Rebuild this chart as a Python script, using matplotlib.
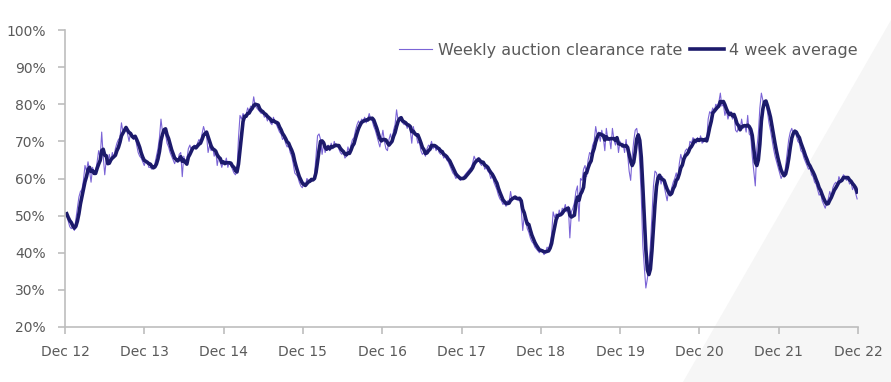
import numpy as np
import pandas as pd
import matplotlib
matplotlib.use("Agg")
import matplotlib.pyplot as plt
from matplotlib.patches import Polygon

# weekly auction clearance rate (%), Dec 12 -> Dec 22
y2013 = [50.5, 48.5, 47.0, 46.5, 47.0, 46.0, 49.0, 52.0, 55.0, 56.5, 57.0, 59.5, 63.5, 62.0, 64.5, 62.0,
         59.0, 63.0, 61.5, 62.0, 64.5, 67.5, 65.5, 72.5, 66.0, 61.0, 65.0, 64.0, 66.5, 64.5, 67.0, 65.5,
         68.0, 69.5, 70.5, 71.0, 75.0, 72.5, 73.5, 74.0, 72.0, 70.0, 72.5, 71.0, 70.5, 71.5, 69.0, 67.0,
         66.0, 65.5, 64.5, 63.5]
y2014 = [65.0, 64.5, 63.0, 63.0, 62.5, 63.0, 64.0, 66.0, 68.0, 71.0, 76.0, 72.5, 73.0, 72.0, 69.5, 68.5,
         67.0, 66.0, 65.0, 64.0, 65.5, 64.5, 66.5, 67.0, 60.5, 66.0, 64.0, 65.0, 68.0, 69.0, 67.5, 68.5,
         69.0, 68.0, 69.5, 70.5, 70.0, 72.0, 74.0, 72.5, 71.5, 67.0, 69.0, 67.5, 68.5, 66.0, 67.5, 63.5,
         66.0, 64.5, 63.0, 64.5]
y2015 = [64.0, 65.5, 63.0, 64.5, 63.5, 62.5, 61.5, 61.0, 62.0, 71.0, 77.0, 76.0, 77.5, 76.5, 77.0, 79.0,
         78.0, 79.5, 79.0, 82.0, 79.5, 79.0, 78.5, 78.0, 77.5, 78.0, 76.5, 77.0, 75.5, 76.5, 75.0, 74.5,
         76.5, 75.0, 74.5, 73.5, 72.5, 72.0, 70.5, 71.0, 69.5, 68.5, 69.0, 67.0, 66.0, 64.0, 61.5, 61.0,
         60.5, 59.0, 58.0, 57.5]
y2016 = [59.0, 58.0, 60.0, 59.5, 59.5, 60.0, 59.5, 61.0, 66.0, 71.5, 72.0, 70.5, 66.5, 69.5, 67.0, 68.5,
         69.0, 67.5, 69.5, 68.0, 70.0, 68.5, 69.0, 68.0, 67.0, 66.5, 67.5, 65.5, 66.0, 68.5, 67.0, 69.0,
         70.5, 71.0, 73.0, 74.5, 75.5, 74.5, 76.0, 75.5, 76.5, 75.0, 76.0, 77.5, 76.0, 75.5, 74.0, 73.0,
         71.5, 70.0, 68.5, 70.5]
y2017 = [73.0, 70.0, 68.0, 67.5, 70.5, 72.0, 70.0, 73.0, 74.5, 78.5, 75.5, 76.0, 75.5, 75.0, 74.5, 75.0,
         73.5, 74.5, 73.0, 69.5, 74.0, 72.0, 71.5, 69.5, 70.0, 67.5, 66.5, 67.0, 66.0, 68.0, 69.0, 68.5,
         70.0, 68.0, 69.0, 67.5, 68.5, 67.0, 66.5, 67.0, 65.5, 66.0, 65.0, 64.5, 63.5, 62.5, 61.5, 61.0,
         60.0, 60.5, 60.0, 59.5]
y2018 = [60.0, 60.5, 61.0, 61.5, 62.0, 62.5, 63.0, 64.0, 66.0, 65.0, 64.5, 65.5, 64.0, 63.5, 64.5, 62.5,
         63.0, 62.0, 61.5, 60.0, 61.0, 59.0, 58.0, 57.0, 55.5, 54.5, 54.0, 53.0, 53.5, 52.5, 54.0, 53.5,
         56.5, 54.0, 55.0, 54.5, 55.0, 54.0, 55.0, 52.0, 46.0, 50.0, 48.5, 46.5, 45.5, 44.0, 43.0, 42.5,
         41.5, 41.0, 40.5, 40.0]
y2019 = [41.0, 40.5, 39.5, 40.0, 41.5, 41.0, 42.5, 45.0, 51.0, 49.5, 50.5, 49.0, 51.5, 50.0, 52.0, 51.5,
         53.0, 51.0, 52.5, 44.0, 51.0, 52.0, 53.5, 56.5, 58.0, 48.5, 60.0, 59.5, 62.5, 63.5, 60.5, 65.0,
         67.0, 66.5, 69.0, 70.0, 74.0, 71.5, 72.5, 70.0, 73.0, 71.0, 67.5, 73.5, 70.5, 71.0, 68.0, 73.5,
         70.5, 69.0, 71.0, 67.0]
y2020 = [70.0, 68.5, 69.5, 67.0, 70.5, 66.5, 62.0, 59.5, 66.0, 70.0, 73.0, 73.5, 70.5, 64.0, 55.0, 42.0,
         36.0, 30.5, 33.0, 37.0, 42.0, 50.0, 58.0, 62.0, 61.5, 59.0, 61.0, 58.5, 60.5, 58.0, 56.0, 54.0,
         57.0, 55.5, 57.5, 59.0, 60.0, 61.5, 59.5, 64.0, 66.5, 64.5, 66.0, 67.5, 68.0, 67.0, 70.0, 69.5,
         71.0, 70.5, 69.5, 71.0]
y2021 = [70.0, 71.5, 69.5, 70.0, 71.0, 70.0, 76.0, 78.0, 77.5, 79.0, 78.0, 80.0, 79.5, 80.5, 83.0, 79.5,
         80.0, 77.0, 78.5, 76.0, 77.5, 78.0, 76.0, 77.5, 73.0, 72.5, 74.0, 73.0, 76.0, 73.5, 74.5, 72.5,
         77.0, 72.0, 71.5, 66.0, 62.0, 58.0, 68.0, 72.0, 79.0, 83.0, 81.0, 79.5, 80.0, 78.0, 75.0, 73.0,
         70.5, 68.0, 66.0, 64.5]
y2022 = [63.0, 61.5, 60.0, 61.0, 60.5, 63.5, 67.0, 70.5, 72.5, 73.5, 72.0, 73.0, 71.5, 70.0, 69.5, 67.5,
         67.0, 65.5, 64.5, 63.5, 62.5, 63.0, 61.0, 60.5, 59.0, 58.5, 57.0, 55.5, 56.0, 54.0, 53.0, 52.0,
         53.5, 54.5, 56.5, 55.0, 57.5, 58.5, 59.0, 58.0, 60.5, 59.5, 60.0, 61.0, 60.5, 59.5, 60.0, 58.5,
         59.0, 57.0, 58.0, 56.0, 54.5]

tick_labels = ["Dec 12", "Dec 13", "Dec 14", "Dec 15", "Dec 16", "Dec 17",
               "Dec 18", "Dec 19", "Dec 20", "Dec 21", "Dec 22"]

weekly = y2013 + y2014 + y2015 + y2016 + y2017 + y2018 + y2019 + y2020 + y2021 + y2022
dates = pd.date_range("2012-12-09", periods=len(weekly), freq="W")
s = pd.Series(weekly, index=dates)
avg4 = s.rolling(4, min_periods=1).mean()

plt.rcParams['font.family'] = ['DejaVu Sans']
grey_txt = '#5A5A5A'

fig = plt.figure(figsize=(8.91, 3.82), dpi=100)
# light grey diagonal shape in the lower right corner, behind the axes
fig.patches.append(Polygon([[683/891, 0], [1, 0], [1, 1 - 20/382]], closed=True,
                           transform=fig.transFigure, facecolor='#F6F6F6',
                           edgecolor='none', zorder=-5))
ax = fig.add_axes([65/891, 1 - 327/382, (858 - 65)/891, (327 - 30)/382])
ax.patch.set_alpha(0)

ax.plot(s.index, s.values / 100, color='#7B64D6', lw=0.8, label='Weekly auction clearance rate')
ax.plot(avg4.index, avg4.values / 100, color='#1C1A6B', lw=2.6, label='4 week average')

ticks = pd.to_datetime([f"{y}-12-01" for y in range(2012, 2023)])
ax.set_xticks(ticks)
ax.set_xticklabels(tick_labels)
ax.set_xlim(ticks[0], ticks[-1])
ax.set_ylim(0.2, 1.0)
ax.set_yticks(np.arange(0.2, 1.01, 0.1))
ax.set_yticklabels([f"{int(round(v*100))}%" for v in np.arange(0.2, 1.01, 0.1)])

for sp in ['top', 'right']:
    ax.spines[sp].set_visible(False)
for sp in ['left', 'bottom']:
    ax.spines[sp].set_color('#BDBDBD')
    ax.spines[sp].set_linewidth(1.2)
ax.tick_params(axis='both', colors='#BDBDBD', labelcolor=grey_txt, labelsize=10,
               length=5, width=1.2)
ax.tick_params(axis='x', pad=8)
ax.tick_params(axis='y', pad=9)

ax.legend(loc='upper right', ncol=2, frameon=False, fontsize=11.5, labelcolor=grey_txt,
          bbox_to_anchor=(1.018, 1.005), handlelength=2.1, handletextpad=0.35, columnspacing=0.5)

plt.savefig("out.png", dpi=100)
